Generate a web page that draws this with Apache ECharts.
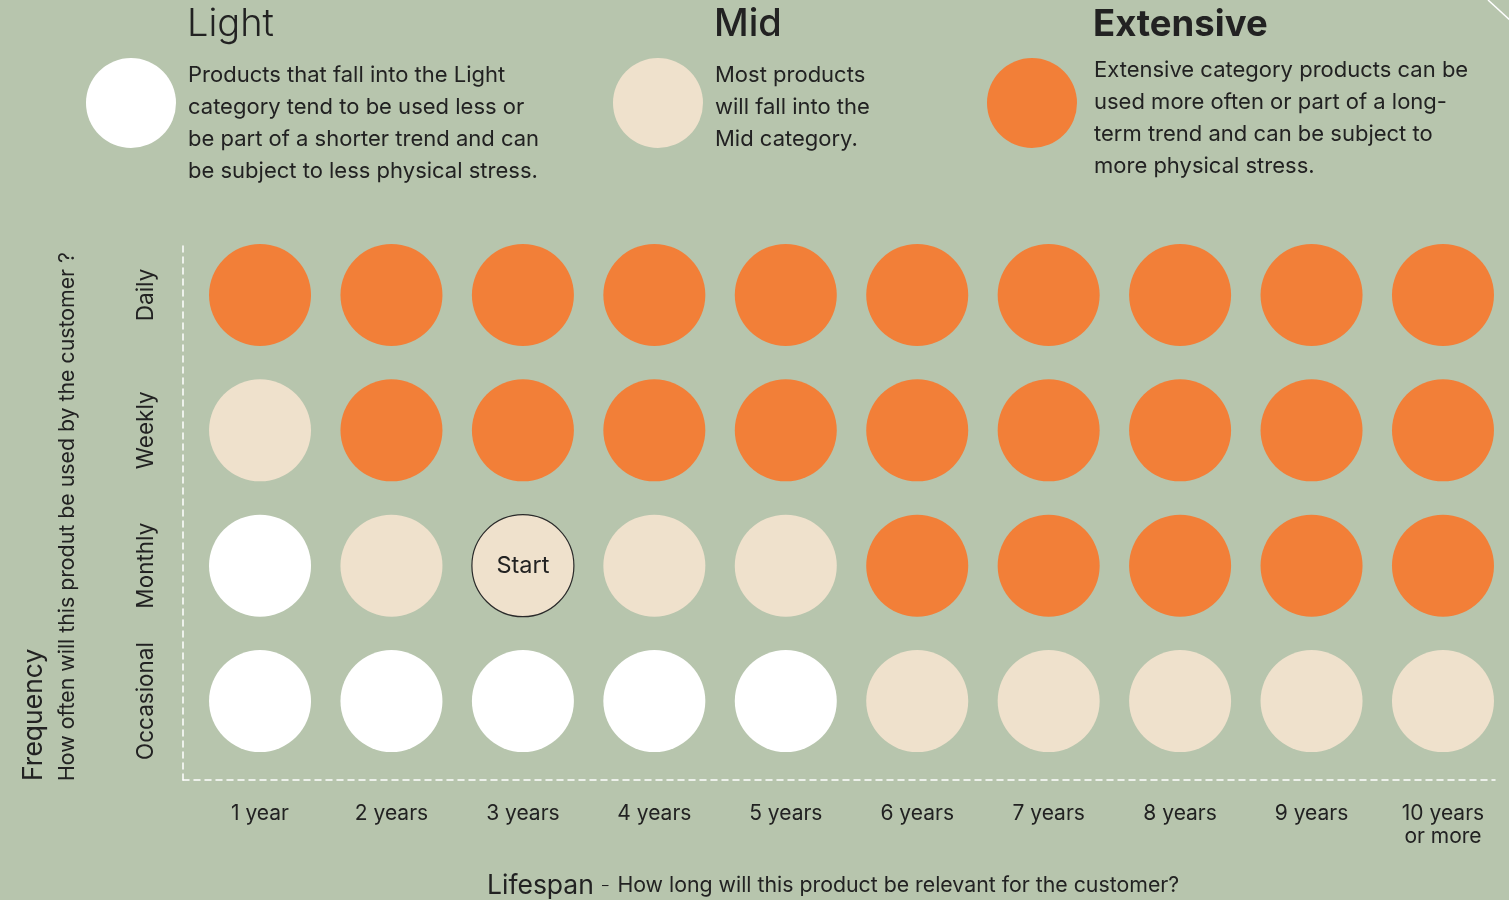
<!DOCTYPE html>
<html>
<head>
<meta charset="utf-8">
<script src="https://cdn.jsdelivr.net/npm/echarts@6/dist/echarts.min.js"></script>
<style>
html,body{margin:0;padding:0;background:#b7c5ad;}
#chart{width:1509px;height:900px;}
</style>
</head>
<body>
<div id="chart"></div>
<script>
// ---- data ----
const lifespans = ['1 year','2 years','3 years','4 years','5 years','6 years','7 years','8 years','9 years','10 years\nor more'];
const frequencies = ['Occasional','Monthly','Weekly','Daily'];
const categoryNames = ['Light','Mid','Extensive'];
const categoryDescriptions = [
  'Products that fall into the Light\ncategory tend to be used less or\nbe part of a shorter trend and can\nbe subject to less physical stress.',
  'Most products\nwill fall into the\nMid category.',
  'Extensive category products can be\nused more often or part of a long-\nterm trend and can be subject to\nmore physical stress.'
];
// category index per lifespan (0 = Light, 1 = Mid, 2 = Extensive)
const occasionalRow = [0,0,0,0,0,1,1,1,1,1];
const monthlyRow    = [0,1,1,1,1,2,2,2,2,2];
const weeklyRow     = [1,2,2,2,2,2,2,2,2,2];
const dailyRow      = [2,2,2,2,2,2,2,2,2,2];
const startCell = ['3 years','Monthly'];
const startLabel = 'Start';
const yTitle = 'Frequency';
const ySubtitle = 'How often will this produt be used by the customer ?';
const xTitle = 'Lifespan';
const xSubtitle = 'How long will this product be relevant for the customer?';

// ---- styles ----
const colors = ['#ffffff','#efe1cc','#f27f38'];
const bg = '#b7c5ad';
const ink = '#222222';
const font = 'Inter';

const rows = [occasionalRow, monthlyRow, weeklyRow, dailyRow];
const seriesData = [[],[],[]];
rows.forEach((row, ri) => {
  row.forEach((cat, ci) => {
    const item = {value: [lifespans[ci], frequencies[ri]]};
    if (lifespans[ci] === startCell[0] && frequencies[ri] === startCell[1]) {
      item.itemStyle = {borderColor: '#2a2a2a', borderWidth: 1.2};
      item.label = {show: true, formatter: startLabel, color: ink, fontSize: 23.5, fontFamily: font};
    }
    seriesData[cat].push(item);
  });
});

const chart = echarts.init(document.getElementById('chart'));

const headerX = [188, 715, 1094];
const circleX = [131, 658, 1032];
const titleWeights = [300, 500, 700];
const titleSizes = [38, 38, 36.5];
const descTop = [59, 59, 54];
const graphics = [];
categoryNames.forEach((name, i) => {
  graphics.push({type:'circle', shape:{cx:circleX[i], cy:103, r:45}, style:{fill:colors[i]}, silent:true});
  graphics.push({type:'text', x:headerX[i]-1, y:25, style:{text:name, font:`${titleWeights[i]} ${titleSizes[i]}px ${font}`, fill:ink, textVerticalAlign:'middle', textAlign:'left'}});
  graphics.push({type:'text', x:headerX[i], y:descTop[i], style:{text:categoryDescriptions[i], font:`400 22px ${font}`, lineHeight:32, fill:ink, textVerticalAlign:'top', textAlign:'left'}});
});
graphics.push({type:'text', x:34, y:781, rotation:Math.PI/2, style:{text:yTitle, font:`400 26.5px ${font}`, fill:ink, textAlign:'left', textVerticalAlign:'middle'}});
graphics.push({type:'text', x:68, y:781, rotation:Math.PI/2, style:{text:ySubtitle, font:`400 21.3px ${font}`, fill:ink, textAlign:'left', textVerticalAlign:'middle'}});
graphics.push({type:'text', x:487, y:886, style:{
  text:'{a|'+xTitle+'}{c|–}{b|'+xSubtitle+'}',
  rich:{a:{fontSize:26.5, fontFamily:font, color:ink}, b:{fontSize:21.3, fontFamily:font, color:ink}, c:{fontSize:13, fontFamily:font, color:ink, padding:[0,9,0,8]}},
  textVerticalAlign:'middle', textAlign:'left', fill:ink}});
graphics.push({type:'line', shape:{x1:1488, y1:0, x2:1512, y2:22}, style:{stroke:'#ffffff', lineWidth:1.5}});

chart.setOption({
  backgroundColor: bg,
  animation: false,
  textStyle: {fontFamily: font},
  grid: [
    {left:194.3, right:0.3, top:227.3, bottom:131.3},
    {left:183, right:14, top:243, bottom:120}
  ],
  xAxis: [
    {type:'category', gridIndex:0, data:lifespans, boundaryGap:true,
     axisLine:{show:false}, axisTick:{show:false}, splitLine:{show:false},
     axisLabel:{interval:0, margin:33, fontSize:21, color:ink, lineHeight:23, fontFamily:font}},
    {type:'value', gridIndex:1, min:0, max:1, axisLine:{show:true, lineStyle:{color:'#ffffff', type:[6,5], width:1.5}},
     axisTick:{show:false}, axisLabel:{show:false}, splitLine:{show:false}}
  ],
  yAxis: [
    {type:'category', gridIndex:0, data:frequencies, boundaryGap:true,
     axisLine:{show:false}, axisTick:{show:false}, splitLine:{show:false},
     axisLabel:{interval:0, rotate:90, margin:37, fontSize:22.5, color:ink, fontFamily:font}},
    {type:'value', gridIndex:1, min:0, max:1, axisLine:{show:true, lineStyle:{color:'#ffffff', type:[6,5], width:1.5}},
     axisTick:{show:false}, axisLabel:{show:false}, splitLine:{show:false}}
  ],
  series: categoryNames.map((name, i) => ({
    type:'scatter', name:name, xAxisIndex:0, yAxisIndex:0,
    symbol:'circle', symbolSize:102,
    itemStyle:{color:colors[i], opacity:1},
    emphasis:{disabled:true},
    data: seriesData[i]
  })),
  graphic: graphics
});
</script>
</body>
</html>
